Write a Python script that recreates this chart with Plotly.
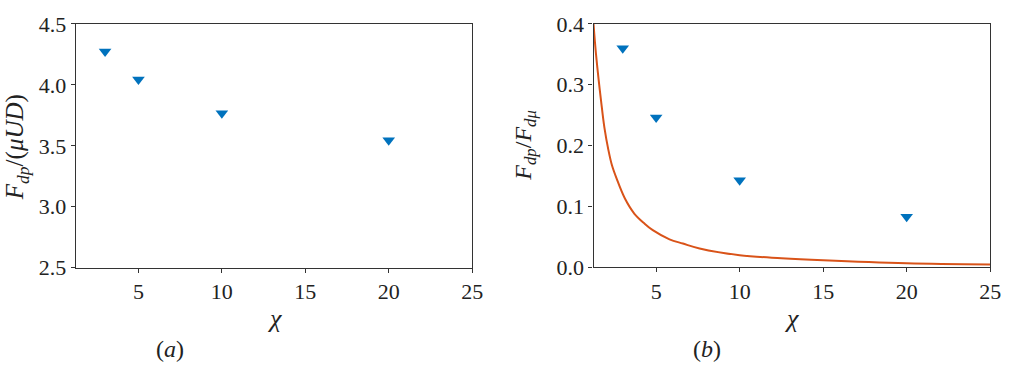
import plotly.graph_objects as go

# Data
chi = [3, 5, 10, 20]
force_a = [4.273, 4.044, 3.768, 3.546]          # F_dp/(mu U D)
ratio_b = [0.360, 0.246, 0.143, 0.083]          # F_dp/F_dmu
curve_chi = [1.25, 1.3, 1.4, 1.55, 1.7, 1.9, 2.14, 2.35, 2.63, 3.13, 3.7, 4.3,
             4.8, 5.8, 6.6, 7.6, 10.0, 12.5, 15.0, 20.0, 25.0]
curve_val = [0.400, 0.382, 0.350, 0.310, 0.274, 0.230, 0.193, 0.168, 0.146,
             0.113, 0.088, 0.072, 0.061, 0.046, 0.039, 0.031, 0.020, 0.0150,
             0.0115, 0.0065, 0.0045]
xticks = [5, 10, 15, 20, 25]
yticks_a = [2.5, 3.0, 3.5, 4.0, 4.5]
yticks_b = [0.0, 0.1, 0.2, 0.3, 0.4]

W, H = 1017, 376
BLUE = "#0072BD"
ORANGE = "#D95319"
FONT = "Liberation Serif"
FS = 22

def px_x(v):
    return v / W

def px_y(v):
    return 1 - v / H

fig = go.Figure()
fig.add_trace(go.Scatter(x=chi, y=force_a, mode="markers", xaxis="x", yaxis="y",
                         marker=dict(symbol="triangle-down", size=11, color=BLUE),
                         showlegend=False))
fig.add_trace(go.Scatter(x=curve_chi, y=curve_val, mode="lines", xaxis="x2", yaxis="y2",
                         line=dict(color=ORANGE, width=2, shape="spline", smoothing=1.0),
                         showlegend=False, cliponaxis=True))
fig.add_trace(go.Scatter(x=chi, y=ratio_b, mode="markers", xaxis="x2", yaxis="y2",
                         marker=dict(symbol="triangle-down", size=11, color=BLUE),
                         showlegend=False))

axis_common = dict(showline=True, linecolor="#333333", linewidth=1.3, mirror=True,
                   ticks="outside", ticklen=4, tickwidth=1.2, tickcolor="#333333",
                   showgrid=False, zeroline=False,
                   tickfont=dict(family=FONT, size=FS, color="#222222"))

fig.update_layout(
    width=W, height=H,
    font=dict(family=FONT, size=FS, color="#222222"),
    margin=dict(l=0, r=0, t=0, b=0),
    plot_bgcolor="white", paper_bgcolor="white",
    xaxis=dict(domain=[px_x(76.7), px_x(477.3)], range=[1.25, 25], tickvals=xticks,
               anchor="y", **axis_common),
    yaxis=dict(domain=[px_y(274), px_y(12.7)], range=[2.5, 4.5], tickvals=yticks_a,
               tickformat=".1f", anchor="x", **axis_common),
    xaxis2=dict(domain=[px_x(600), px_x(1001)], range=[1.25, 25], tickvals=xticks,
                anchor="y2", **axis_common),
    yaxis2=dict(domain=[px_y(273.5), px_y(12.7)], range=[0, 0.4], tickvals=yticks_b,
                tickformat=".1f", anchor="x2", **axis_common),
)

def ann(text, x, y, size, angle=0):
    fig.add_annotation(text=text, x=px_x(x), y=px_y(y), xref="paper", yref="paper",
                       showarrow=False, textangle=angle, xanchor="center", yanchor="middle",
                       font=dict(family=FONT, size=size, color="#222222"))

ann("<i>F</i><sub><i>dp</i></sub>/(<i>μUD</i>)", 17, 145, 25, -90)
ann("<i>F</i><sub><i>dp</i></sub>/<i>F</i><sub><i>dμ</i></sub>", 531, 143, 24, -90)
ann("<i>χ</i>", 277, 328, 26)
ann("<i>χ</i>", 800, 328, 26)
ann("(<i>a</i>)", 172, 361, 24)
ann("(<i>b</i>)", 715, 361, 24)

fig.write_html("out.html")
